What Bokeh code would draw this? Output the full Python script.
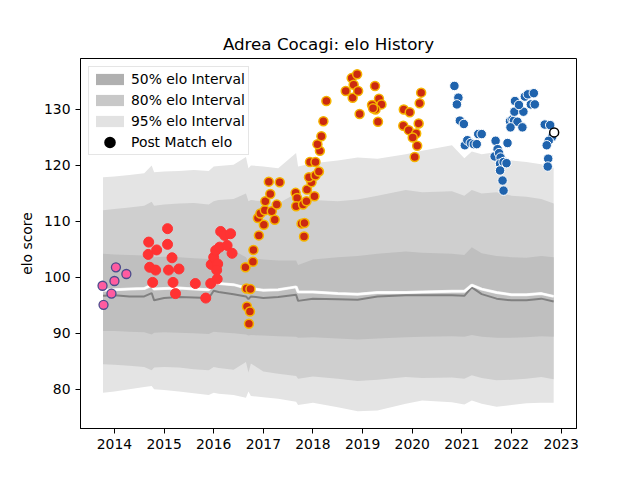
from bokeh.plotting import figure
from bokeh.models import Range1d, FixedTicker, Legend, LegendItem
from bokeh.embed import file_html
from bokeh.resources import INLINE

# match history, split by period (decimal years, elo after match)
pink_year = [2013.76, 2013.78, 2013.94, 2014.00, 2014.03, 2014.24]
pink_elo = [98.5, 95.1, 97.1, 99.35, 101.8, 100.6]

red_year = [2014.69, 2015.07, 2015.07, 2014.68, 2014.85, 2015.16, 2014.71, 2014.83,
            2015.09, 2015.30, 2014.77, 2015.18, 2015.23, 2015.63, 2015.84, 2015.94,
            2015.95, 2016.00, 2016.04, 2016.07, 2016.08, 2016.12, 2016.14, 2016.22,
            2016.34, 2016.27, 2016.37, 2016.06]
red_elo = [106.3, 108.7, 105.9, 104.1, 104.9, 103.5, 101.8, 101.3,
           101.3, 101.5, 99.1, 99.1, 97.1, 98.9, 96.3, 98.9,
           102.3, 103.6, 104.8, 99.7, 102.4, 105.4, 108.2, 107.5,
           107.8, 105.7, 104.3, 101.3]

gold_year = [2016.64, 2016.79, 2016.80, 2016.91, 2017.01, 2016.89, 2016.94, 2017.03,
             2017.17, 2017.23, 2017.27, 2017.04, 2017.14, 2017.11, 2017.33, 2016.66,
             2016.74, 2016.67, 2016.73, 2016.71, 2017.65, 2017.68, 2017.66, 2017.80,
             2017.87, 2017.88, 2018.03, 2017.97, 2017.92, 2018.05, 2018.12, 2017.77,
             2017.83, 2017.82, 2017.94, 2018.05, 2018.14, 2018.09, 2018.17, 2018.21,
             2018.27, 2018.66, 2018.80, 2018.78, 2018.89, 2018.82, 2018.91, 2018.94,
             2019.25, 2019.19, 2019.33, 2019.38, 2019.26, 2019.21, 2019.31, 2019.83,
             2019.95, 2020.18, 2020.15, 2019.82, 2019.93, 2020.13, 2020.08, 2020.01,
             2020.10, 2020.05]
gold_elo = [101.8, 102.8, 104.9, 107.5, 109.4, 110.6, 111.4, 112.0,
            111.8, 110.3, 113.0, 113.6, 114.9, 117.1, 117.0, 98.0,
            97.9, 94.8, 93.9, 91.7, 115.1, 114.2, 112.7, 113.0,
            113.6, 115.7, 114.5, 117.0, 117.9, 118.2, 118.9, 109.6,
            109.7, 107.3, 120.6, 120.6, 122.6, 123.8, 125.2, 127.9,
            131.5, 133.3, 132.1, 135.6, 136.3, 134.4, 133.3, 129.2,
            134.2, 130.8, 131.9, 130.9, 130.0, 130.2, 127.8, 130.0,
            129.5, 133.0, 131.1, 127.1, 126.3, 127.5, 125.7, 125.0,
            123.5, 121.5]

blue_year = [2020.85, 2020.93, 2020.90, 2020.96, 2021.04, 2021.06, 2021.11, 2021.18,
             2021.24, 2021.30, 2021.33, 2021.40, 2021.68, 2021.72, 2021.66, 2021.75,
             2021.78, 2021.77, 2021.84, 2021.90, 2021.92, 2021.77, 2021.82, 2021.84,
             2021.97, 2022.02, 2022.05, 2022.12, 2022.22, 2021.98, 2022.06, 2022.24,
             2022.07, 2022.15, 2022.27, 2022.33, 2022.45, 2022.39, 2022.47, 2022.67,
             2022.78, 2022.82, 2022.75, 2022.71, 2022.74, 2022.73]
blue_elo = [134.2, 132.1, 130.9, 128.0, 127.4, 123.6, 124.5, 124.0,
            123.8, 123.8, 125.6, 125.6, 124.4, 122.9, 121.6, 122.2,
            121.4, 120.3, 120.6, 120.4, 124.0, 119.1, 117.3, 115.5,
            127.9, 128.2, 128.0, 127.8, 126.8, 126.8, 129.6, 129.6,
            131.5, 130.8, 132.3, 132.7, 132.9, 130.9, 130.9, 127.3,
            127.2, 125.1, 124.4, 123.6, 121.2, 119.8]

last_year = [2022.86]
last_elo = [125.9]

# interval bands and lines
band_year = [2013.77, 2014.0, 2014.3, 2014.6, 2014.75, 2014.8, 2015.0, 2015.3, 2015.6,
             2015.9, 2016.0, 2016.1, 2016.4, 2016.65, 2016.7, 2016.75, 2017.0, 2017.3,
             2017.66, 2017.7, 2018.0, 2018.5, 2018.9, 2019.3, 2019.87, 2020.2, 2020.8,
             2021.05, 2021.2, 2021.4, 2021.7, 2022.0, 2022.3, 2022.6, 2022.85]
hi95 = [117.9, 118.0, 118.3, 118.6, 120.0, 118.8, 118.9, 119.0, 119.2,
        119.0, 119.8, 119.9, 120.1, 121.5, 119.5, 120.0, 119.8, 119.5,
        122.2, 119.8, 120.4, 120.9, 121.4, 121.2, 122.0, 122.6, 123.6,
        121.3, 122.5, 122.0, 122.4, 120.9, 120.6, 120.2, 119.6]
hi80 = [112.0, 112.2, 112.5, 112.8, 113.5, 112.8, 113.0, 113.2, 113.3,
        113.0, 113.6, 113.8, 114.0, 115.0, 113.6, 113.8, 113.6, 113.2,
        115.0, 113.4, 113.8, 113.6, 113.9, 114.6, 115.6, 115.2, 115.4,
        114.6, 115.6, 115.0, 115.2, 114.6, 114.4, 114.0, 113.2]
hi50 = [104.2, 104.1, 104.0, 103.9, 104.3, 103.6, 103.7, 103.6, 103.4,
        103.3, 104.4, 104.6, 104.8, 103.6, 102.8, 103.4, 103.2, 103.0,
        103.0, 102.2, 103.2, 103.6, 103.8, 104.2, 104.6, 104.4, 104.2,
        104.0, 105.4, 104.3, 103.8, 103.6, 103.5, 103.8, 103.6]
lo50 = [90.4, 90.4, 90.3, 90.2, 89.8, 90.1, 90.2, 90.1, 90.0,
        89.9, 90.3, 90.2, 90.0, 89.8, 89.6, 89.7, 89.6, 89.5,
        89.4, 89.2, 89.3, 89.1, 88.9, 89.1, 89.3, 89.4, 89.5,
        89.4, 89.7, 89.4, 89.2, 89.2, 89.3, 89.5, 89.4]
lo80 = [84.5, 84.4, 84.2, 84.0, 83.4, 83.9, 84.0, 83.9, 83.6,
        83.4, 84.0, 83.8, 83.5, 84.9, 83.0, 84.6, 83.2, 82.8,
        82.4, 81.9, 82.3, 81.9, 81.5, 81.7, 82.2, 82.0, 82.1,
        81.9, 82.5, 82.0, 81.6, 81.7, 81.9, 82.2, 81.8]
lo95 = [79.4, 79.6, 80.0, 80.4, 80.6, 80.0, 79.9, 79.6, 79.3,
        79.0, 79.4, 79.2, 79.0, 78.5, 79.6, 78.8, 78.6, 78.3,
        77.8, 77.2, 77.6, 76.8, 76.1, 76.2, 77.4, 78.0, 77.7,
        77.3, 78.0, 77.4, 76.9, 77.2, 77.5, 77.6, 77.6]
mean_elo = [97.7, 97.8, 97.9, 98.0, 98.6, 97.9, 98.0, 98.1, 97.9,
            97.8, 99.0, 98.9, 98.7, 98.1, 97.7, 98.0, 97.7, 97.8,
            98.3, 97.4, 97.4, 97.1, 97.0, 97.3, 97.3, 97.4, 97.5,
            97.5, 98.6, 97.9, 97.3, 96.9, 96.9, 97.1, 96.6]
median_elo = [96.7, 96.8, 96.6, 96.6, 97.2, 95.9, 96.3, 96.5, 96.4,
              96.3, 97.6, 97.4, 97.0, 96.6, 96.1, 96.6, 96.3, 96.5,
              96.9, 95.8, 96.2, 96.1, 96.0, 96.6, 96.8, 96.8, 96.8,
              96.7, 98.2, 97.0, 96.2, 95.9, 95.9, 96.2, 95.7]

year_ticks = [2014, 2015, 2016, 2017, 2018, 2019, 2020, 2021, 2022, 2023]
elo_ticks = [80, 90, 100, 110, 120, 130]

FONT = "DejaVu Sans"

p = figure(frame_width=496, frame_height=370, min_border_left=80, min_border_top=58,
           min_border_right=48, min_border_bottom=36,
           x_range=Range1d(2013.316, 2023.31), y_range=Range1d(73.0, 139.1),
           title="Adrea Cocagi: elo History",
           output_backend="svg", toolbar_location=None)

p.title.align = "center"
p.title.text_font = FONT
p.title.text_font_size = "16.7px"
p.title.text_font_style = "normal"
p.title.text_color = "black"

p.xgrid.visible = False
p.ygrid.visible = False
p.outline_line_color = "black"
p.outline_line_alpha = 1
p.background_fill_color = "white"

p.xaxis.ticker = FixedTicker(ticks=year_ticks)
p.yaxis.ticker = FixedTicker(ticks=elo_ticks)
p.yaxis.axis_label = "elo score"
for ax in p.xaxis + p.yaxis:
    ax.major_tick_in = 0
    ax.major_tick_out = 5
    ax.minor_tick_line_color = None
    ax.axis_line_color = "black"
    ax.major_tick_line_color = "black"
    ax.major_label_text_font = FONT
    ax.major_label_text_font_size = "13.9px"
    ax.major_label_text_color = "black"
    ax.axis_label_text_font = FONT
    ax.axis_label_text_font_size = "13.9px"
    ax.axis_label_text_font_style = "normal"
    ax.axis_label_text_color = "black"
p.yaxis.axis_label_standoff = 6

# bands
p.varea(x=band_year, y1=lo95, y2=hi95, fill_color="#e4e4e4")
p.varea(x=band_year, y1=lo80, y2=hi80, fill_color="#cfcfcf")
p.varea(x=band_year, y1=lo50, y2=hi50, fill_color="#bfbfbf")
p.line(band_year, median_elo, line_color="#808080", line_width=2)
p.line(band_year, mean_elo, line_color="#f0f0f0", line_width=3)
p.line(band_year, mean_elo, line_color="white", line_width=2)

# matches
p.scatter(pink_year, pink_elo, size=9, fill_color="#ff5ca0", line_color="#4b4b8c", line_width=1.3)
p.scatter(red_year, red_elo, size=10, fill_color="#ff3333", line_color="#ff3333", line_width=1)
p.scatter(gold_year, gold_elo, size=9, fill_color="#cc2a10", line_color="#f5b400", line_width=1.5)
p.scatter(blue_year, blue_elo, size=9.5, fill_color="#1f63ad", line_color="white", line_width=1)
p.scatter(last_year, last_elo, size=9, fill_color="white", line_color="black", line_width=1.5)

# legend: stand-in renderers placed outside the visible range, in legend colours
off_x = [2040, 2041]
off_y = [0, 0]
r50 = p.varea(x=off_x, y1=off_y, y2=off_y, fill_color="#b0b0b0")
r80 = p.varea(x=off_x, y1=off_y, y2=off_y, fill_color="#c8c8c8")
r95 = p.varea(x=off_x, y1=off_y, y2=off_y, fill_color="#e2e2e2")
rdot = p.scatter(x=off_x, y=off_y, size=6, fill_color="black", line_color="black", line_width=6)

legend = Legend(items=[
    LegendItem(label="50% elo Interval", renderers=[r50]),
    LegendItem(label="80% elo Interval", renderers=[r80]),
    LegendItem(label="95% elo Interval", renderers=[r95]),
    LegendItem(label="Post Match elo", renderers=[rdot]),
], location="top_left")
legend.label_text_font = FONT
legend.label_text_font_size = "13.9px"
legend.label_text_color = "black"
legend.glyph_width = 35
legend.glyph_height = 14
legend.label_height = 18
legend.label_standoff = 4
legend.spacing = 3
legend.padding = 3
legend.margin = 8
legend.border_line_color = "#cccccc"
legend.background_fill_alpha = 0.8
p.add_layout(legend)

open("out.html", "w").write(file_html(p, INLINE))
